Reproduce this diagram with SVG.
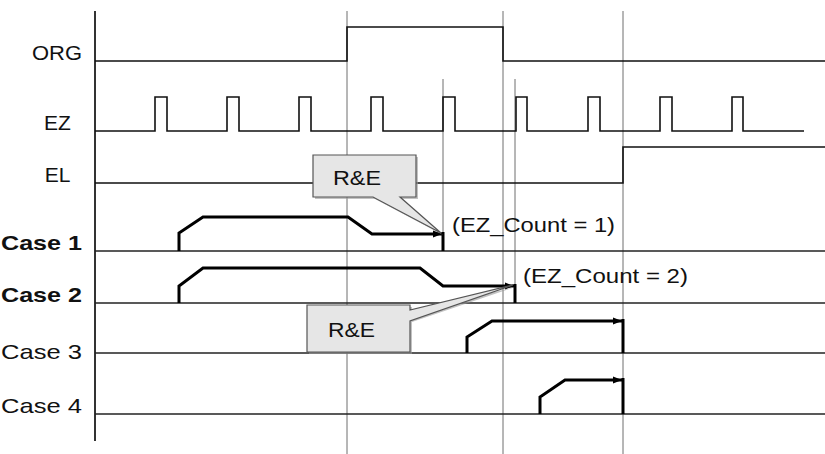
<svg xmlns="http://www.w3.org/2000/svg" width="825" height="454" viewBox="0 0 825 454">
<style>
.bg{fill:#fff}
.grid{stroke:#6e6e6e;stroke-width:1;fill:none}
.axis{stroke:#333;stroke-width:2;fill:none}
.sig{stroke:#111;stroke-width:1.6;fill:none}
.base{stroke:#222;stroke-width:1.6;fill:none}
.wave{stroke:#000;stroke-width:3;fill:none;stroke-linejoin:miter}
.lbl{font-family:"Liberation Sans",Arial,sans-serif;font-size:21px;fill:#111}
.bold{font-weight:bold}
.call{fill:#e6e6e6;stroke:#555;stroke-width:1.2}
.shadow{fill:#9a9a9a;opacity:0.6}
</style>
<defs>
<marker id="ah" markerUnits="userSpaceOnUse" markerWidth="10" markerHeight="10" refX="9" refY="5" orient="auto">
<path d="M0,1.5 L9,5 L0,8.5 Z" fill="#000"/>
</marker>
</defs>
<rect class="bg" x="0" y="0" width="825" height="454"/>
<g id="grid">
<line class="grid" x1="347" y1="11" x2="347" y2="454"/>
<line class="grid" x1="503" y1="11" x2="503" y2="454"/>
<line class="grid" x1="623" y1="11" x2="623" y2="454"/>
<line class="grid" x1="443" y1="79" x2="443" y2="251"/>
<line class="grid" x1="515" y1="79" x2="515" y2="303"/>
<line class="axis" x1="95" y1="11" x2="95" y2="441"/>
</g>
<g id="labels">
<text class="lbl" x="57" y="60" text-anchor="middle" textLength="50" lengthAdjust="spacingAndGlyphs">ORG</text>
<text class="lbl" x="57.5" y="130" text-anchor="middle">EZ</text>
<text class="lbl" x="57.5" y="182" text-anchor="middle">EL</text>
<text class="lbl bold" x="1" y="250" textLength="81" lengthAdjust="spacingAndGlyphs">Case 1</text>
<text class="lbl bold" x="1" y="302" textLength="81" lengthAdjust="spacingAndGlyphs">Case 2</text>
<text class="lbl" x="1" y="359" textLength="81" lengthAdjust="spacingAndGlyphs">Case 3</text>
<text class="lbl" x="1" y="413" textLength="81" lengthAdjust="spacingAndGlyphs">Case 4</text>
</g>
<g id="ORG">
<path class="sig" d="M95,61 H347 V27 H503 V61 H825"/>
</g>
<g id="EZ">
<path class="sig" d="M95,131 H155 V97 H167 V131 H227 V97 H239 V131 H299 V97 H311 V131 H371 V97 H383 V131 H443 V97 H455 V131 H516 V97 H527 V131 H588 V97 H600 V131 H660 V97 H672 V131 H732 V97 H743 V131 H804"/>
</g>
<g id="EL">
<path class="sig" d="M95,183 H623 V147 H825"/>
</g>
<g id="case1">
<line class="base" x1="95" y1="251" x2="825" y2="251"/>
<path class="wave" d="M179,251 V233 L203,217 H348 L372,234 H442" marker-end="url(#ah)"/>
<line class="wave" x1="443" y1="232" x2="443" y2="251"/>
</g>
<g id="case2">
<line class="base" x1="95" y1="303" x2="825" y2="303"/>
<path class="wave" d="M179,303 V286 L203,268 H420 L443,286 H514" marker-end="url(#ah)"/>
<line class="wave" x1="515" y1="284" x2="515" y2="303"/>
</g>
<g id="case3">
<line class="base" x1="95" y1="353" x2="825" y2="353"/>
<path class="wave" d="M467,353 V337 L492,321 H622" marker-end="url(#ah)"/>
<line class="wave" x1="623" y1="319" x2="623" y2="353"/>
</g>
<g id="case4">
<line class="base" x1="95" y1="414" x2="825" y2="414"/>
<path class="wave" d="M540,414 V397 L565,380 H622" marker-end="url(#ah)"/>
<line class="wave" x1="623" y1="378" x2="623" y2="414"/>
</g>
<g id="callout1">
<path class="shadow" d="M315,157 H418 V199 H402 L443,235 L375,199 H315 Z"/>
<path class="call" d="M313,155 H416 V197 H400 L441,233 L373,197 H313 Z"/>
<text class="lbl" x="333" y="185" textLength="48" lengthAdjust="spacingAndGlyphs">R&amp;E</text>
</g>
<g id="callout2">
<path class="shadow" d="M309,307 H412 V312 L515,287 L412,322 V354 H309 Z"/>
<path class="call" d="M307,305 H410 V310 L513,285 L410,321 V352 H307 Z"/>
<text class="lbl" x="328" y="337" textLength="47" lengthAdjust="spacingAndGlyphs">R&amp;E</text>
</g>
<g id="notes">
<text class="lbl" x="452" y="232" textLength="163" lengthAdjust="spacingAndGlyphs">(EZ_Count = 1)</text>
<text class="lbl" x="523" y="283" textLength="165" lengthAdjust="spacingAndGlyphs">(EZ_Count = 2)</text>
</g>
</svg>
